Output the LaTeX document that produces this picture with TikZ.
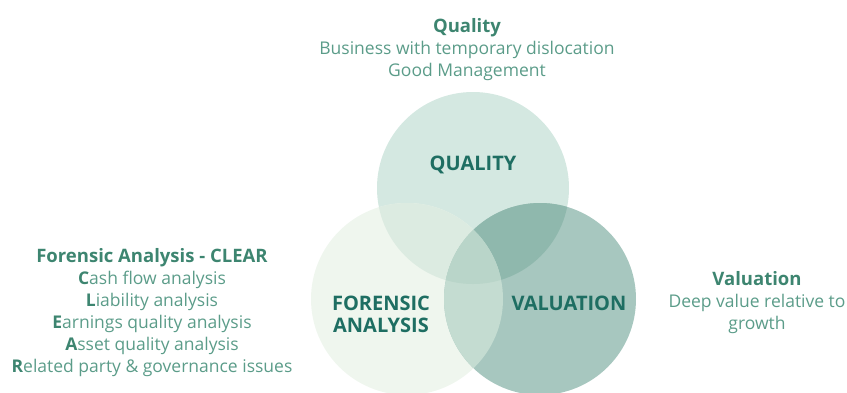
\documentclass[tikz,border=0pt]{standalone}
\usepackage{fontspec}
\setmainfont{Open Sans}
\definecolor{qcol}{HTML}{D4E8E1}
\definecolor{fcol}{HTML}{EFF6EE}
\definecolor{vcol}{HTML}{A7C7BF}
\definecolor{qfcol}{HTML}{DCEBE1}
\definecolor{qvcol}{HTML}{8FB8AD}
\definecolor{fvcol}{HTML}{C4DCD1}
\definecolor{qfvcol}{HTML}{B9D5C9}
\definecolor{headcol}{HTML}{3D8570}
\definecolor{bodycol}{HTML}{5B9C89}
\definecolor{tagcol}{HTML}{1E6E62}
\tikzset{
  notes/.style={align=center, text=bodycol, font=\fontsize{17.5}{22}\selectfont},
  tag/.style={align=center, text=tagcol, font=\bfseries\fontsize{20}{22}\selectfont},
}
\newcommand{\hd}[1]{\textcolor{headcol}{\bfseries\fontsize{18.5}{22}\selectfont #1}}
\newcommand{\ini}[1]{\textcolor{headcol}{\bfseries #1}}
\begin{document}
\begin{tikzpicture}[x=1pt,y=-1pt]
    \useasboundingbox (0,0) rectangle (847,392);
    \def\Qc{(473,188) circle (96pt)}
    \def\Fc{(407,299) circle (96pt)}
    \def\Vc{(540,299) circle (96pt)}
    \fill[qcol] \Qc;
    \fill[fcol] \Fc;
    \fill[vcol] \Vc;
    \begin{scope}\clip \Qc; \fill[qfcol] \Fc; \end{scope}
    \begin{scope}\clip \Qc; \fill[qvcol] \Vc; \end{scope}
    \begin{scope}\clip \Fc; \fill[fvcol] \Vc; \end{scope}
    \begin{scope}\clip \Qc; \clip \Fc; \fill[qfvcol] \Vc; \end{scope}
    \node[tag] (quality) at (473,165) {QUALITY};
    \node[tag] (forensic) at (381,314) {FORENSIC\\ANALYSIS};
    \node[tag] (valuation) at (569,303) {VALUATION};
    \node[notes] (qnote) at (467,50) {\hd{Quality}\\Business with temporary dislocation\\Good Management};
    \node[notes] (fnote) at (152,313) {\hd{Forensic Analysis - CLEAR}\\
        \ini{C}ash flow analysis\\\ini{L}iability analysis\\\ini{E}arnings quality analysis\\
        \ini{A}sset quality analysis\\\ini{R}elated party \& governance issues};
    \node[notes] (vnote) at (757,303) {\hd{Valuation}\\Deep value relative to\\growth};
\end{tikzpicture}
\end{document}
